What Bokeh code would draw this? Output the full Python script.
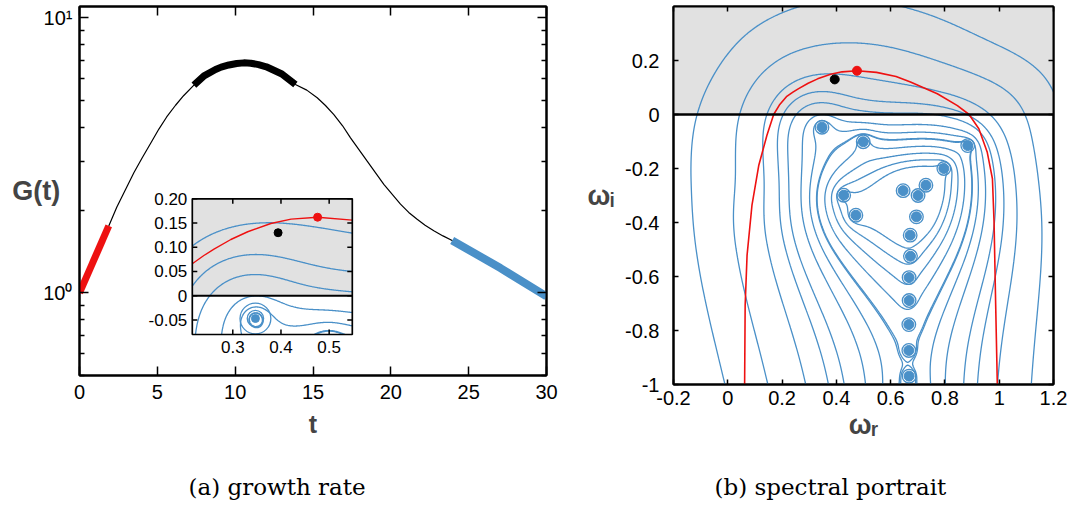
import numpy as np
import contourpy
from bokeh.plotting import figure
from bokeh.layouts import row
from bokeh.models import (Range1d, LinearAxis, LogAxis, FixedTicker, Title,
                          CustomJSTickFormatter, LinearScale, BoxAnnotation, Span)
from bokeh.core.properties import value
from bokeh.embed import file_html
from bokeh.resources import INLINE

# ======================= DATA =======================
# (a) growth rate G(t)
t_vals = [0.0, 1.88, 2.40, 2.95, 3.50, 4.03, 4.60, 5.10, 5.60, 6.17, 6.70, 7.35, 8.00, 8.74,
          9.10, 9.60, 10.10, 10.56, 11.00, 11.50, 12.00, 12.38, 13.00, 13.87, 14.60, 15.27,
          15.80, 16.34, 16.90, 17.41, 18.48, 19.55, 20.62, 21.15, 21.69, 22.20, 22.76,
          23.35, 23.94, 27.04, 30.0]
G_vals = [1.00, 1.75, 2.05, 2.37, 2.74, 3.10, 3.52, 3.94, 4.36, 4.81, 5.22, 5.69, 6.15, 6.49,
          6.62, 6.74, 6.82, 6.86, 6.84, 6.76, 6.64, 6.49, 6.25, 5.72, 5.46, 5.12,
          4.80, 4.45, 4.05, 3.66, 3.01, 2.48, 2.10, 1.96, 1.85, 1.76, 1.68,
          1.61, 1.55, 1.23, 0.97]
t_red = (0.0, 1.88)
t_black = (7.35, 13.87)
t_blue = (23.94, 30.0)
x_ticks_a = [0, 5, 10, 15, 20, 25, 30]
y_major_a = [1, 10]
y_major_labels_a = ["10\u2070", "10\u00b9"]
y_minor_a = [0.5, 0.6, 0.7, 0.8, 0.9, 2, 3, 4, 5, 6, 7, 8, 9]

# inset of (a)
inset_x_range = (0.216, 0.548)
inset_y_range = (-0.08, 0.20)
inset_xticks = [0.3, 0.4, 0.5]
inset_xtick_labels = ["0.3", "0.4", "0.5"]
inset_yticks = [-0.05, 0.0, 0.05, 0.10, 0.15, 0.20]
inset_ytick_labels = ["-0.05", "0", "0.05", "0.10", "0.15", "0.20"]

# (b) spectral portrait: eigenvalues (first ten: upper branches, rest: S branch)
eig_r = [0.347, 0.499, 0.884, 0.796, 0.730, 0.646, 0.701, 0.427, 0.472, 0.695,
         0.672, 0.673, 0.668, 0.668, 0.667, 0.667, 0.668]
eig_i = [-0.047, -0.101, -0.115, -0.200, -0.262, -0.282, -0.300, -0.299, -0.373, -0.379,
         -0.447, -0.525, -0.604, -0.689, -0.778, -0.874, -0.969]
red_wr = [0.062, 0.064, 0.071, 0.089, 0.114, 0.144, 0.169, 0.190, 0.216, 0.240, 0.261, 0.296,
          0.331, 0.379, 0.421, 0.476, 0.548, 0.620, 0.673, 0.772, 0.846, 0.889, 0.925, 0.956,
          0.975, 0.981, 0.987, 0.993]
red_wi = [-1.0, -0.707, -0.522, -0.337, -0.189, -0.078, 0.0, 0.035, 0.066, 0.083, 0.096, 0.116,
          0.132, 0.149, 0.158, 0.162, 0.156, 0.141, 0.120, 0.077, 0.033, 0.0, -0.053, -0.140,
          -0.238, -0.399, -0.707, -1.0]
red_pt_r, red_pt_i = [0.476], [0.162]
black_pt_r, black_pt_i = [0.394], [0.130]
x_ticks_b = [-0.2, 0.0, 0.2, 0.4, 0.6, 0.8, 1.0, 1.2]
y_ticks_b = [-1.0, -0.8, -0.6, -0.4, -0.2, 0.0, 0.2]

# points (outermost first)
trace_x = [
    [-0.044, -0.080, -0.126, -0.139, -0.117, -0.077, -0.016, 0.082, 0.168, 0.267, 0.647, 0.782, 0.967, 1.151, 1.200],
    [0.141, 0.101, 0.046, 0.033, 0.045, 0.082, 0.168, 0.291, 0.389, 0.537, 0.721, 0.905, 1.028, 1.087, 1.090, 1.077],
    [0.270, 0.230, 0.216, 0.300, 0.400, 0.480, 0.548, 0.620, 0.782, 0.905, 0.977],
    [0.367, 0.328, 0.216, 0.261, 0.310, 0.365, 0.421, 0.476, 0.548, 0.660, 0.844, 0.942],
    [0.435, 0.402, 0.247, 0.296, 0.351, 0.400, 0.449, 0.899],
    [0.502, 0.463, 0.846],
    [0.567, 0.525, 0.795],
    [0.635, 0.586, 0.739],
    [0.697],
]
trace_y = [
    [-1.0, -0.707, -0.46, -0.213, 0.0, 0.095, 0.200, 0.305, 0.360, 0.395, 0.395, 0.354, 0.268, 0.157, 0.107],
    [-1.0, -0.707, -0.46, -0.213, 0.0, 0.095, 0.194, 0.249, 0.258, 0.249, 0.212, 0.151, 0.095, 0.017, -0.707, -1.0],
    [-1.0, -0.707, 0.090, 0.135, 0.156, 0.155, 0.137, 0.128, 0.083, 0.033, -1.0],
    [-1.0, -0.707, 0.021, 0.066, 0.083, 0.087, 0.076, 0.055, 0.045, 0.033, 0.021, -1.0],
    [-1.0, -0.707, 0.021, 0.042, 0.045, 0.028, 0.007, -1.0],
    [-1.0, -0.707, -1.0],
    [-1.0, -0.707, -1.0],
    [-1.0, -0.707, -1.0],
    [-1.0],
]

# ======================= FIELD MODEL (fitted to traces) =======================
N_TOP = 10
S_CENTER = 0.667
TAIL_TOP, TAIL_BOTTOM = -1.02, -6.0
RBF_SCALE = 0.15
RBF_SMOOTH = 0.20
RBF_MIN_Y = -0.25


def components(X, Y):
    X = np.asarray(X, dtype=float)
    Y = np.asarray(Y, dtype=float)
    a_top = np.zeros(np.broadcast(X, Y).shape)
    a_s = np.zeros_like(a_top)
    for k, (er, ei) in enumerate(zip(eig_r, eig_i)):
        v = 0.5 * np.log((X - er) ** 2 + (Y - ei) ** 2 + 1e-14)
        if k < N_TOP:
            a_top = a_top + v
        else:
            a_s = a_s + v
    dx = np.abs(X - S_CENTER) + 1e-9

    def F(u):
        return 0.5 * u * np.log(dx * dx + u * u) - u + dx * np.arctan(u / dx)
    tail = F(Y - TAIL_BOTTOM) - F(Y - TAIL_TOP)
    return a_s, a_top, tail


def basis(X, Y):
    return [X, Y, X * Y, Y * Y]


NB = 4
cid = np.concatenate([[i] * len(tx) for i, tx in enumerate(trace_x)]).astype(int)
cx = np.concatenate([np.array(tx, float) for tx in trace_x])
cy = np.concatenate([np.array(ty, float) for ty in trace_y])
nlev = len(trace_x)
C0 = components(cx, cy)
B0 = np.stack(basis(cx, cy), axis=1)
hh = 1e-4
Cxp, Cxm = components(cx + hh, cy), components(cx - hh, cy)
Cyp, Cym = components(cx, cy + hh), components(cx, cy - hh)
Bxd = (np.stack(basis(cx + hh, cy), 1) - np.stack(basis(cx - hh, cy), 1)) / (2 * hh)
Byd = (np.stack(basis(cx, cy + hh), 1) - np.stack(basis(cx, cy - hh), 1)) / (2 * hh)

best = None
for w in [0.2, 0.35, 0.5, 0.7, 1.0, 1.4, 2.0, 3.0]:
    for rho in [2, 3, 4.5, 6, 8, 10, 13, 17, 22]:
        wts = np.ones(len(cx))
        for it in range(5):
            M = np.zeros((len(cx), NB + nlev))
            M[:, :NB] = B0
            M[np.arange(len(cx)), NB + cid] = -1.0
            rhs = -(C0[0] + w * C0[1] + rho * C0[2])
            sol = np.linalg.lstsq(M * wts[:, None], rhs * wts, rcond=None)[0]
            cb = sol[:NB]
            gx = ((Cxp[0] - Cxm[0]) + w * (Cxp[1] - Cxm[1]) + rho * (Cxp[2] - Cxm[2])) / (2 * hh) + Bxd @ cb
            gy = ((Cyp[0] - Cym[0]) + w * (Cyp[1] - Cym[1]) + rho * (Cyp[2] - Cym[2])) / (2 * hh) + Byd @ cb
            g = np.hypot(gx, gy) + 1e-6
            wts = 1.0 / g
        f = C0[0] + w * C0[1] + rho * C0[2] + B0 @ cb
        res = (f - sol[NB + cid]) / g
        cost = float(np.mean(res ** 2))
        if best is None or cost < best[0]:
            best = (cost, w, rho, cb.copy(), sol[NB:].copy())

_, W_TOP, RHO, COEF, LEVELS = best


def base_field(X, Y):
    a_s, a_top, tail = components(X, Y)
    b = basis(X, Y)
    return a_s + W_TOP * a_top + RHO * tail + sum(c * bb for c, bb in zip(COEF, b))


def taper(Y):
    s = np.clip((np.asarray(Y, float) + 0.5) / 0.3, 0.0, 1.0)
    return s * s * (3 - 2 * s)


# smooth correction (upper region only) so the arches follow the traced points
sel = cy >= RBF_MIN_Y
rx, ry = cx[sel], cy[sel]
resid = (LEVELS[cid] - base_field(cx, cy))[sel]
D2 = (rx[:, None] - rx[None, :]) ** 2 + (ry[:, None] - ry[None, :]) ** 2
K = np.exp(-D2 / (2 * RBF_SCALE ** 2)) * taper(ry)[:, None] + RBF_SMOOTH * np.eye(len(rx))
ALPHA = np.linalg.solve(K, resid)


def field(X, Y):
    X = np.asarray(X, float)
    Y = np.asarray(Y, float)
    corr = np.zeros(np.broadcast(X, Y).shape)
    for a, px, py in zip(ALPHA, rx, ry):
        corr = corr + a * np.exp(-((X - px) ** 2 + (Y - py) ** 2) / (2 * RBF_SCALE ** 2))
    return base_field(X, Y) + taper(Y) * corr


d_in = abs(LEVELS[4] - LEVELS[7]) / 3.0
base_lv = min(LEVELS[7], LEVELS[8])
all_levels = list(LEVELS) + [base_lv - d_in * k for k in range(1, 5)]


def contour_lines(xg, yg, levels):
    XX, YY = np.meshgrid(xg, yg)
    Z = field(XX, YY)
    gen = contourpy.contour_generator(x=xg, y=yg, z=Z)
    xs, ys = [], []
    for lv in levels:
        for seg in gen.lines(lv):
            if len(seg) > 1:
                xs.append(seg[:, 0].tolist())
                ys.append(seg[:, 1].tolist())
    return xs, ys


# ======================= STYLE =======================
BLUE = "#4a90c8"
RED = "#ee1111"
GRAY = "#e1e1e1"
FONT = "Liberation Sans"
BLANK = CustomJSTickFormatter(code="return '';")


def mirror_axis(kind, ticker):
    return kind(ticker=ticker, formatter=BLANK, major_label_text_font_size="1px",
                major_label_standoff=0)


def style_axes(p, major_in, minor_in, label_size="20px", standoff=8):
    for ax in p.axis:
        ax.major_tick_in = major_in
        ax.major_tick_out = 0
        ax.minor_tick_in = minor_in
        ax.minor_tick_out = 0
        ax.axis_line_width = 2
        ax.major_tick_line_width = 1.5
        ax.minor_tick_line_width = 1.5
        ax.major_label_text_font = FONT
        ax.major_label_text_color = "black"
        if ax.major_label_text_font_size != "1px":
            ax.major_label_text_font_size = label_size
            ax.major_label_standoff = standoff


def bold_label(ax, text, size, standoff, horizontal=False):
    ax.axis_label = text
    ax.axis_label_text_font = FONT
    ax.axis_label_text_font_style = "bold"
    ax.axis_label_text_font_size = size
    ax.axis_label_standoff = standoff
    if horizontal:
        ax.axis_label_orientation = "horizontal"


# ======================= PANEL (a) =======================
FX0, FX1, FY0, FY1 = 79, 546, 6, 375
p1 = figure(frame_width=FX1 - FX0, frame_height=FY1 - FY0, x_range=Range1d(0, 30),
            y_range=Range1d(0.5, 11), y_axis_type="log",
            output_backend="svg", toolbar_location=None,
            min_border_left=FX0, min_border_right=580 - FX1, min_border_top=FY0,
            min_border_bottom=510 - FY1)
xa1 = p1.below[0]
ya1 = p1.left[0]
p1.grid.visible = False
p1.outline_line_color = "black"
p1.outline_line_width = 2

p1.line(t_vals, G_vals, line_color="black", line_width=1.2)
tv = np.array(t_vals)
Gv = np.array(G_vals)
m = (tv >= t_red[0]) & (tv <= t_red[1])
p1.line(tv[m], Gv[m], line_color=RED, line_width=7)
m = (tv >= t_black[0]) & (tv <= t_black[1])
p1.line(tv[m], Gv[m], line_color="black", line_width=7, line_join="round")
m = (tv >= t_blue[0]) & (tv <= t_blue[1])
p1.line(tv[m], Gv[m], line_color=BLUE, line_width=8)

xa1.ticker = FixedTicker(ticks=x_ticks_a)
ya1.ticker = FixedTicker(ticks=y_major_a, minor_ticks=y_minor_a)
ya1.major_label_overrides = dict(zip(y_major_a, y_major_labels_a))
p1.add_layout(mirror_axis(LinearAxis, FixedTicker(ticks=x_ticks_a)), "above")
p1.add_layout(mirror_axis(LogAxis, FixedTicker(ticks=y_major_a, minor_ticks=y_minor_a)), "right")
style_axes(p1, 9, 5, "20px", 9)
ya1.major_label_standoff = 7
bold_label(xa1, "t", "25px", 8)
bold_label(ya1, "G(t)", "27px", -20, horizontal=True)

# ---- inset (own data ranges mapped onto a sub-box of the frame)
IBL, IBR, IBT, IBB = 191.8, 351.8, 198.3, 334.0
sxx = (inset_x_range[1] - inset_x_range[0]) / (IBR - IBL)
ix0 = inset_x_range[0] - (IBL - FX0) * sxx
ix1 = ix0 + (FX1 - FX0) * sxx
syy = (inset_y_range[1] - inset_y_range[0]) / (IBB - IBT)
iy0 = inset_y_range[0] - (FY1 - IBB) * syy
iy1 = iy0 + (FY1 - FY0) * syy
p1.extra_x_ranges = {"ix": Range1d(ix0, ix1)}
p1.extra_y_ranges = {"iy": Range1d(iy0, iy1)}
p1.extra_x_scales = {"ix": LinearScale()}
p1.extra_y_scales = {"iy": LinearScale()}
kw = dict(x_range_name="ix", y_range_name="iy")
X0, X1 = inset_x_range
Y0, Y1 = inset_y_range

p1.quad(left=[X0], right=[X1], bottom=[Y0], top=[Y1], fill_color="white", line_color=None, **kw)
p1.quad(left=[X0], right=[X1], bottom=[0.0], top=[Y1], fill_color=GRAY, line_color=None, **kw)
ixs, iys = contour_lines(np.linspace(X0, X1, 220), np.linspace(Y0, Y1, 190), all_levels)
p1.multi_line(ixs, iys, line_color=BLUE, line_width=1.3, **kw)
p1.line([X0, X1], [0.0, 0.0], line_color="black", line_width=2, **kw)
rr = np.array(red_wr)
ri = np.array(red_wi)
m = (rr >= X0) & (rr <= X1) & (ri >= Y0)
p1.line(rr[m], ri[m], line_color=RED, line_width=1.4, **kw)
er = np.array(eig_r)
ei = np.array(eig_i)
m = (er >= X0) & (er <= X1) & (ei >= Y0) & (ei <= Y1)
for rad in (0.017, 0.032):
    p1.circle(er[m], ei[m], radius=rad, fill_color=None, line_color=BLUE, line_width=1.3, **kw)
p1.scatter(er[m], ei[m], size=8, fill_color=BLUE, line_color=BLUE, **kw)
p1.scatter(black_pt_r, black_pt_i, size=8, fill_color="black", line_color="black", **kw)
p1.scatter(red_pt_r, red_pt_i, size=8, fill_color=RED, line_color=RED, **kw)
p1.quad(left=[X0], right=[X1], bottom=[Y0], top=[Y1], fill_color=None, line_color="black",
        line_width=1.7, **kw)
tl_y = 5 * syy
tl_x = 5 * sxx
n = len(inset_xticks)
p1.segment(x0=inset_xticks, y0=[Y0] * n, x1=inset_xticks, y1=[Y0 + tl_y] * n,
           line_color="black", line_width=1.5, **kw)
p1.segment(x0=inset_xticks, y0=[Y1] * n, x1=inset_xticks, y1=[Y1 - tl_y] * n,
           line_color="black", line_width=1.5, **kw)
n = len(inset_yticks)
p1.segment(x0=[X0] * n, y0=inset_yticks, x1=[X0 + tl_x] * n, y1=inset_yticks,
           line_color="black", line_width=1.5, **kw)
p1.segment(x0=[X1] * n, y0=inset_yticks, x1=[X1 - tl_x] * n, y1=inset_yticks,
           line_color="black", line_width=1.5, **kw)
p1.text(x=inset_xticks, y=[Y0 - 12 * syy] * len(inset_xticks), text=inset_xtick_labels,
        text_align="center", text_baseline="middle", text_font=value(FONT),
        text_font_size="17px", text_color="black", **kw)
p1.text(x=[X0 - 5 * sxx] * len(inset_yticks), y=inset_yticks, text=inset_ytick_labels,
        text_align="right", text_baseline="middle", text_font=value(FONT),
        text_font_size="17px", text_color="black", **kw)

p1.add_layout(Title(text="(a) growth rate", align="left", offset=109, standoff=62,
                    text_font="DejaVu Serif", text_font_size="23px",
                    text_font_style="normal", text_color="black"), "below")

# ======================= PANEL (b) =======================
BX0, BX1, BY0, BY1 = 673, 1053, 2, 380
p2 = figure(frame_width=BX1 - BX0, frame_height=BY1 - BY0, x_range=Range1d(-0.2, 1.2),
            y_range=Range1d(-1.0, 0.4), output_backend="svg",
            toolbar_location=None, min_border_left=BX0 - 580, min_border_right=1072 - BX1,
            min_border_top=BY0, min_border_bottom=510 - BY1)
xa2 = p2.below[0]
ya2 = p2.left[0]
p2.grid.visible = False
p2.outline_line_color = "black"
p2.outline_line_width = 2
p2.add_layout(BoxAnnotation(bottom=0.0, fill_color=GRAY, fill_alpha=1.0, line_color=None,
                            level="underlay"))
mxs, mys = contour_lines(np.linspace(-0.2, 1.2, 381), np.linspace(-1.0, 0.4, 381), all_levels)
p2.multi_line(mxs, mys, line_color=BLUE, line_width=1.3)
p2.add_layout(Span(location=0.0, dimension="width", line_color="black", line_width=2.5))
p2.line(red_wr, red_wi, line_color=RED, line_width=1.6)
p2.circle(eig_r, eig_i, radius=0.025, fill_color=None, line_color=BLUE, line_width=1.3)
p2.scatter(eig_r, eig_i, size=10, fill_color=BLUE, line_color=BLUE)
p2.scatter(black_pt_r, black_pt_i, size=9, fill_color="black", line_color="black")
p2.scatter(red_pt_r, red_pt_i, size=9, fill_color=RED, line_color=RED)

fmt = CustomJSTickFormatter(code="return String(Math.round(tick*10)/10);")
xa2.ticker = FixedTicker(ticks=x_ticks_b)
xa2.formatter = fmt
ya2.ticker = FixedTicker(ticks=y_ticks_b)
ya2.formatter = fmt
p2.add_layout(mirror_axis(LinearAxis, FixedTicker(ticks=x_ticks_b)), "above")
p2.add_layout(mirror_axis(LinearAxis, FixedTicker(ticks=y_ticks_b)), "right")
style_axes(p2, 5, 0, "20px", 6)
ya2.major_label_standoff = 14
bold_label(xa2, "\u03c9\u1d63", "27px", 2)
bold_label(ya2, "\u03c9\u1d62", "27px", 8, horizontal=True)

p2.add_layout(Title(text="(b) spectral portrait", align="left", offset=41, standoff=58,
                    text_font="DejaVu Serif", text_font_size="23px",
                    text_font_style="normal", text_color="black"), "below")

layout = row(p1, p2)
open("out.html", "w").write(file_html(layout, INLINE))
